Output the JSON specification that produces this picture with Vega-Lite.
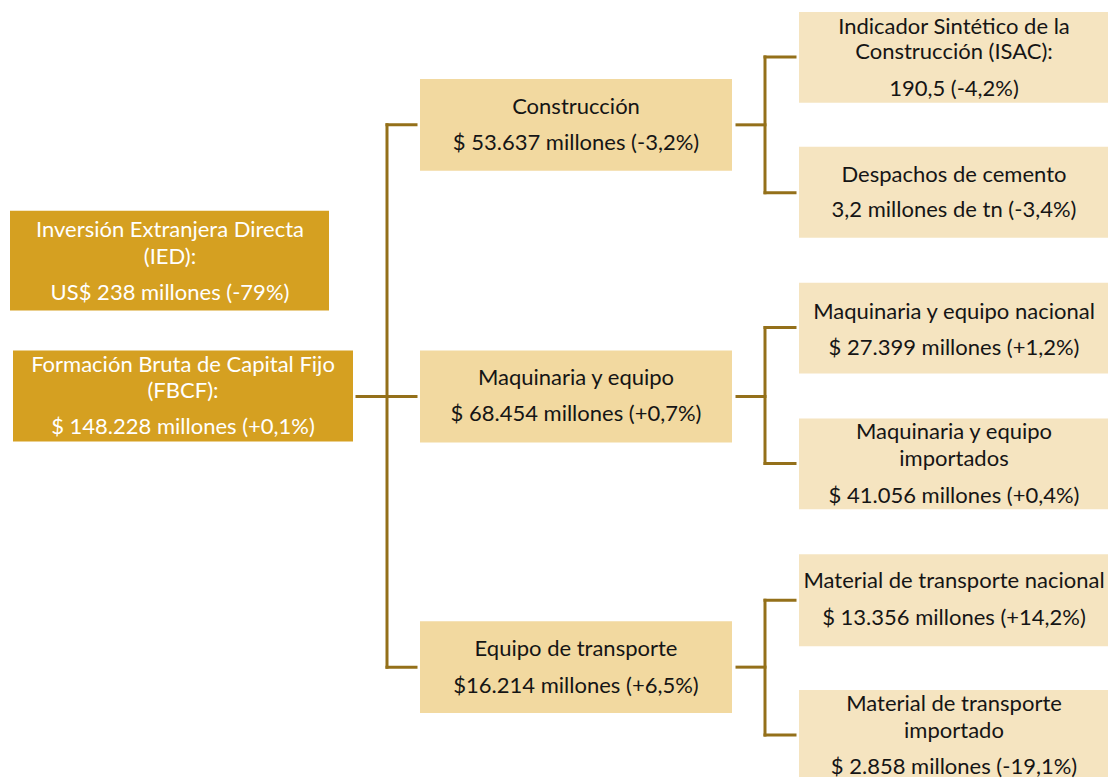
{
  "$schema": "https://vega.github.io/schema/vega-lite/v6.json",
  "width": 1109,
  "height": 778,
  "padding": 0,
  "autosize": {"type": "fit", "contains": "padding"},
  "config": {"view": {"stroke": null}, "background": "white"},
  "datasets": {
    "boxes": [
      {"node": "IED", "level": "root", "x0": 10, "x1": 329, "y0": 211, "y1": 311},
      {"node": "FBCF", "level": "root", "x0": 13, "x1": 353, "y0": 351, "y1": 442},
      {"node": "Construcción", "level": "mid", "x0": 420, "x1": 732, "y0": 79, "y1": 171},
      {"node": "Maquinaria y equipo", "level": "mid", "x0": 420, "x1": 732, "y0": 351, "y1": 443},
      {"node": "Equipo de transporte", "level": "mid", "x0": 420, "x1": 732, "y0": 622, "y1": 714},
      {"node": "ISAC", "level": "leaf", "x0": 799, "x1": 1108, "y0": 12, "y1": 103},
      {"node": "Despachos", "level": "leaf", "x0": 799, "x1": 1108, "y0": 147, "y1": 238},
      {"node": "Maq nacional", "level": "leaf", "x0": 799, "x1": 1108, "y0": 283, "y1": 374},
      {"node": "Maq importados", "level": "leaf", "x0": 799, "x1": 1108, "y0": 419, "y1": 510},
      {"node": "Mat nacional", "level": "leaf", "x0": 799, "x1": 1108, "y0": 555, "y1": 647},
      {"node": "Mat importado", "level": "leaf", "x0": 799, "x1": 1108, "y0": 691, "y1": 778}
    ],
    "links": [
      {"x0": 357, "x1": 416, "y0": 397, "y1": 397},
      {"x0": 387, "x1": 387, "y0": 125, "y1": 668},
      {"x0": 387, "x1": 416, "y0": 125, "y1": 125},
      {"x0": 387, "x1": 416, "y0": 668, "y1": 668},
      {"x0": 737, "x1": 765, "y0": 125, "y1": 125},
      {"x0": 765, "x1": 765, "y0": 57, "y1": 193},
      {"x0": 765, "x1": 795, "y0": 57, "y1": 57},
      {"x0": 765, "x1": 795, "y0": 193, "y1": 193},
      {"x0": 737, "x1": 765, "y0": 397, "y1": 397},
      {"x0": 765, "x1": 765, "y0": 328, "y1": 464},
      {"x0": 765, "x1": 795, "y0": 328, "y1": 328},
      {"x0": 765, "x1": 795, "y0": 464, "y1": 464},
      {"x0": 737, "x1": 765, "y0": 668, "y1": 668},
      {"x0": 765, "x1": 765, "y0": 601, "y1": 736},
      {"x0": 765, "x1": 795, "y0": 601, "y1": 601},
      {"x0": 765, "x1": 795, "y0": 736, "y1": 736}
    ],
    "labels": [
      {"level": "root", "x": 170, "y": 230, "text": "Inversión Extranjera Directa"},
      {"level": "root", "x": 170, "y": 257, "text": "(IED):"},
      {"level": "root", "x": 170, "y": 293, "text": "US$ 238 millones (-79%)"},
      {"level": "root", "x": 183, "y": 365, "text": "Formación Bruta de Capital Fijo"},
      {"level": "root", "x": 183, "y": 392, "text": "(FBCF):"},
      {"level": "root", "x": 183, "y": 428, "text": "$ 148.228 millones (+0,1%)"},
      {"level": "mid", "x": 576, "y": 107, "text": "Construcción"},
      {"level": "mid", "x": 576, "y": 143, "text": "$ 53.637 millones (-3,2%)"},
      {"level": "mid", "x": 576, "y": 378, "text": "Maquinaria y equipo"},
      {"level": "mid", "x": 576, "y": 415, "text": "$ 68.454 millones (+0,7%)"},
      {"level": "mid", "x": 576, "y": 650, "text": "Equipo de transporte"},
      {"level": "mid", "x": 576, "y": 687, "text": "$16.214 millones (+6,5%)"},
      {"level": "leaf", "x": 954, "y": 27, "text": "Indicador Sintético de la"},
      {"level": "leaf", "x": 954, "y": 52, "text": "Construcción (ISAC):"},
      {"level": "leaf", "x": 954, "y": 89, "text": "190,5 (-4,2%)"},
      {"level": "leaf", "x": 954, "y": 175, "text": "Despachos de cemento"},
      {"level": "leaf", "x": 954, "y": 210, "text": "3,2 millones de tn (-3,4%)"},
      {"level": "leaf", "x": 954, "y": 312, "text": "Maquinaria y equipo nacional"},
      {"level": "leaf", "x": 954, "y": 348, "text": "$ 27.399 millones (+1,2%)"},
      {"level": "leaf", "x": 954, "y": 433, "text": "Maquinaria y equipo"},
      {"level": "leaf", "x": 954, "y": 460, "text": "importados"},
      {"level": "leaf", "x": 954, "y": 497, "text": "$ 41.056 millones (+0,4%)"},
      {"level": "leaf", "x": 954, "y": 582, "text": "Material de transporte nacional"},
      {"level": "leaf", "x": 954, "y": 619, "text": "$ 13.356 millones (+14,2%)"},
      {"level": "leaf", "x": 954, "y": 705, "text": "Material de transporte"},
      {"level": "leaf", "x": 954, "y": 732, "text": "importado"},
      {"level": "leaf", "x": 954, "y": 768, "text": "$ 2.858 millones (-19,1%)"}
    ]
  },
  "layer": [
    {
      "data": {"name": "boxes"},
      "mark": {"type": "rect"},
      "encoding": {
        "x": {"field": "x0", "type": "quantitative", "scale": {"domain": [0, 1109], "nice": false, "zero": false}, "axis": null},
        "x2": {"field": "x1"},
        "y": {"field": "y0", "type": "quantitative", "scale": {"domain": [0, 778], "nice": false, "zero": false, "reverse": true}, "axis": null},
        "y2": {"field": "y1"},
        "color": {"field": "level", "type": "nominal", "scale": {"domain": ["root", "mid", "leaf"], "range": ["#D5A021", "#F2D9A0", "#F5E4C0"]}, "legend": null}
      }
    },
    {
      "data": {"name": "links"},
      "mark": {"type": "rule", "color": "#94701A", "strokeWidth": 3, "strokeCap": "square"},
      "encoding": {
        "x": {"field": "x0", "type": "quantitative"},
        "x2": {"field": "x1"},
        "y": {"field": "y0", "type": "quantitative"},
        "y2": {"field": "y1"}
      }
    },
    {
      "data": {"name": "labels"},
      "mark": {"type": "text", "font": "Lato", "fontSize": 22, "align": "center", "baseline": "middle"},
      "encoding": {
        "x": {"field": "x", "type": "quantitative"},
        "y": {"field": "y", "type": "quantitative"},
        "text": {"field": "text"},
        "color": {"field": "level", "type": "nominal", "scale": {"domain": ["root", "mid", "leaf"], "range": ["#FFFFFF", "#151515", "#151515"]}, "legend": null}
      }
    }
  ],
  "resolve": {"scale": {"color": "independent"}}
}
